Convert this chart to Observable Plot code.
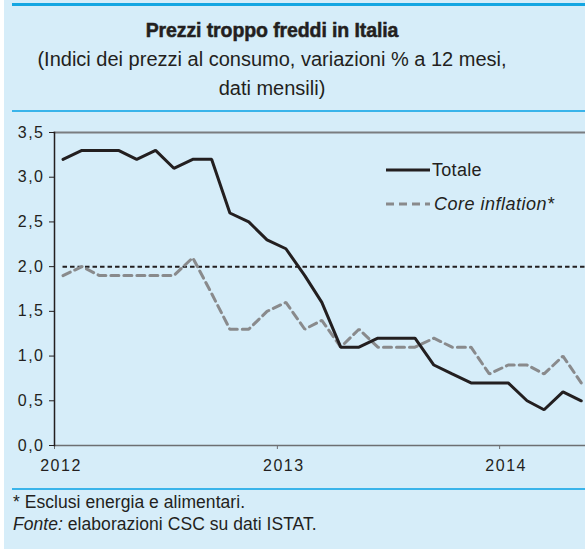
<!DOCTYPE html>
<html>
<head>
<meta charset="utf-8">
<script src="https://cdn.jsdelivr.net/npm/d3@7"></script>
<script src="https://cdn.jsdelivr.net/npm/@observablehq/plot@0.6"></script>
<style>
  html, body { margin: 0; padding: 0; }
  body { width: 585px; height: 549px; background: #ffffff; position: relative; overflow: hidden;
         font-family: "Liberation Sans", Arial, Helvetica, sans-serif; color: #231f20; }
  #panel { position: absolute; left: 4px; top: 0; width: 581px; height: 549px; background: #d6edf9; }
  .bline { position: absolute; left: 12px; width: 573px; background: #14a6e2; }
  #title { position: absolute; left: 0; width: 544px; top: 19px; line-height: 22px; text-align: center;
           font-size: 19.5px; font-weight: bold; letter-spacing: -0.1px; -webkit-text-stroke: 0.5px #231f20; }
  #subtitle { position: absolute; left: 0; width: 544px; top: 45px; line-height: 29px; text-align: center;
              font-size: 20px; letter-spacing: 0px; }
  #chart { position: absolute; left: 0; top: 118px; }
  #chart svg text { letter-spacing: 1.5px; }
  #legend { position: absolute; left: 0; top: 0; }
  #notes { position: absolute; left: 13px; top: 491px; line-height: 22px; font-size: 17.5px; letter-spacing: 0.05px; }
</style>
</head>
<body>
<div id="panel"></div>
<div class="bline" style="top:3px;height:3px;"></div>
<div class="bline" style="top:110px;height:2px;background:#3ab4ea;"></div>
<div class="bline" style="top:488px;height:2px;background:#3ab4ea;"></div>
<div id="title">Prezzi troppo freddi in Italia</div>
<div id="subtitle">(Indici dei prezzi al consumo, variazioni % a 12 mesi,<br>dati mensili)</div>
<div id="chart"></div>
<svg id="legend" width="585" height="549">
  <line x1="386" x2="430" y1="170" y2="170" stroke="#231f20" stroke-width="3"/>
  <text x="432" y="170" dy="0.35em" font-size="18" letter-spacing="0.3" fill="#231f20" font-family="Liberation Sans, Arial, sans-serif">Totale</text>
  <line x1="386" x2="430" y1="204" y2="204" stroke="#898a8c" stroke-width="3" stroke-dasharray="8,5"/>
  <text x="434" y="204" dy="0.35em" font-size="18" font-style="italic" letter-spacing="0.5" fill="#231f20" font-family="Liberation Sans, Arial, sans-serif">Core inflation*</text>
</svg>
<div id="notes">* Esclusi energia e alimentari.<br><i>Fonte:</i> elaborazioni CSC su dati ISTAT.</div>
<script>
const months = ["2012-01","2012-02","2012-03","2012-04","2012-05","2012-06","2012-07","2012-08","2012-09","2012-10","2012-11","2012-12",
                "2013-01","2013-02","2013-03","2013-04","2013-05","2013-06","2013-07","2013-08","2013-09","2013-10","2013-11","2013-12",
                "2014-01","2014-02","2014-03","2014-04","2014-05"];
const totale = [3.2,3.3,3.3,3.3,3.2,3.3,3.1,3.2,3.2,2.6,2.5,2.3,
                2.2,1.9,1.6,1.1,1.1,1.2,1.2,1.2,0.9,0.8,0.7,0.7,
                0.7,0.5,0.4,0.6,0.5];
const core = [1.9,2.0,1.9,1.9,1.9,1.9,1.9,2.1,1.7,1.3,1.3,1.5,
              1.6,1.3,1.4,1.1,1.3,1.1,1.1,1.1,1.2,1.1,1.1,0.8,
              0.9,0.9,0.8,1.0,0.7];
const target = 2.0;
const yTicks = [0, 0.5, 1, 1.5, 2, 2.5, 3, 3.5];
const xTickLabels = ["2012", "2013", "2014"];
const xDomain = ["2012-01-01", "2014-05-22"];

const data = months.map((m, i) => ({date: new Date(m + "-15"), totale: totale[i], core: core[i]}));
const xTicks = xTickLabels.map(y => new Date(y + "-01-01"));
const x0 = new Date(xDomain[0]), x1 = new Date(xDomain[1]);

const chart = Plot.plot({
  width: 585,
  height: 362,
  marginTop: 14,
  marginLeft: 54,
  marginRight: 0,
  marginBottom: 35,
  style: {background: "transparent", fontFamily: "Liberation Sans, Arial, sans-serif", fontSize: "16px", color: "#231f20", overflow: "visible"},
  x: {type: "utc", domain: [x0, x1], label: null},
  y: {domain: [0, 3.5], label: null},
  marks: [
    Plot.frame({anchor: "top", stroke: "#7a7d80", strokeWidth: 2}),
    Plot.frame({anchor: "bottom", stroke: "#6d6f72", strokeWidth: 1.5}),
    Plot.axisX({ticks: xTicks, tickFormat: d3.utcFormat("%Y"), tickSize: 0, tickPadding: 14, dx: 6.5, fill: "#231f20", fontSize: 16}),
    Plot.axisX({ticks: xTicks, tickFormat: null, text: null, tickSize: 4, stroke: "#6d6f72"}),
    Plot.axisY({ticks: yTicks, tickFormat: d => d.toFixed(1).replace(".", ","), tickSize: 5, tickPadding: 5, stroke: "#231f20", fill: "#231f20", fontSize: 16}),
    Plot.frame({anchor: "left", stroke: "#231f20", strokeWidth: 1.5}),
    Plot.ruleY([{y: target, x1: data[0].date, x2: x1}], {y: "y", x1: "x1", x2: "x2", stroke: "#231f20", strokeWidth: 2, strokeDasharray: "4.5,3"}),
    Plot.line(data, {x: "date", y: "core", stroke: "#898a8c", strokeWidth: 3, strokeDasharray: "8,5", strokeLinejoin: "miter"}),
    Plot.line(data, {x: "date", y: "totale", stroke: "#231f20", strokeWidth: 3, strokeLinejoin: "miter"})
  ]
});
document.getElementById("chart").appendChild(chart);
</script>
</body>
</html>
